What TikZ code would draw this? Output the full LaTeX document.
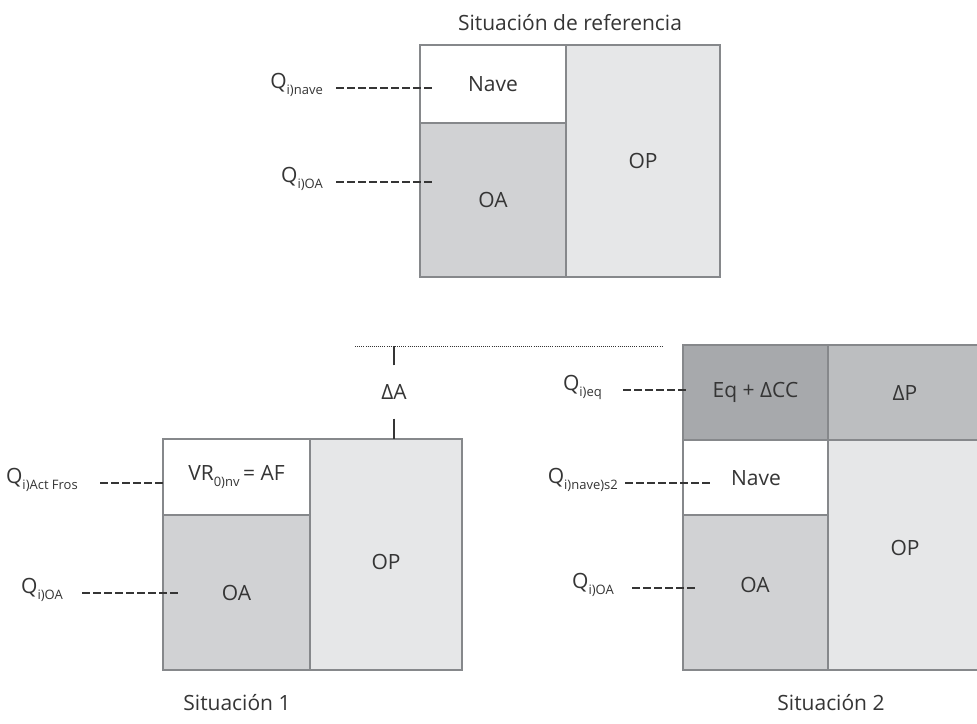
\documentclass[tikz,border=0pt]{standalone}
\usepackage{fontspec}
\setmainfont{Open Sans}
\definecolor{ink}{HTML}{353535}
\definecolor{rule}{HTML}{86888B}
\definecolor{fillOA}{HTML}{D1D2D4}
\definecolor{fillOP}{HTML}{E6E7E8}
\definecolor{fillEQ}{HTML}{A7A9AC}
\definecolor{fillDP}{HTML}{BCBEC0}
\newcommand{\qlab}[1]{Q\raisebox{-0.6ex}{\fontsize{13}{13}\selectfont #1}}
\tikzset{
  cell/.style={draw=rule, line width=1.5pt, inner sep=0pt, outer sep=0pt,
    text=ink, font=\fontsize{21}{24}\selectfont},
  qtag/.style={inner sep=0pt, text=ink, font=\fontsize{21}{24}\selectfont},
  leader/.style={draw=ink, line width=1.5pt, dash pattern=on 7.5pt off 3.5pt},
  caption/.style={inner sep=0pt, text=ink, font=\fontsize{21}{24}\selectfont},
  tick/.style={draw=ink, line width=1.5pt},
  dotline/.style={draw=ink, line width=0.9pt, dash pattern=on 0.9pt off 1.2pt}
}
\begin{document}
\begin{tikzpicture}[x=1pt,y=-1pt]
\clip (0,0) rectangle (977,723);
\fill[white] (0,0) rectangle (977,723);

% ---- reference situation ----
\node[caption] (t0) at (570,23) {Situación de referencia};
\node[cell, fill=white,  minimum width=146pt, minimum height=78pt]  (nave0) at (493,84)  {Nave};
\node[cell, fill=fillOA, minimum width=146pt, minimum height=154pt] (oa0)   at (493,200) {OA};
\node[cell, fill=fillOP, minimum width=154pt, minimum height=232pt] (op0)   at (643,161) {OP};

\node[qtag, anchor=base east] (qnave0) at (323,88)  {\qlab{i)nave}};
\node[qtag, anchor=base east] (qoa0)   at (323,182) {\qlab{i)OA}};
\coordinate (enave0) at (433,88);
\coordinate (eoa0)   at (433,182);
\draw[leader] ([xshift=13pt]qnave0.base east) -- (enave0);
\draw[leader] ([xshift=13pt]qoa0.base east) -- (eoa0);

% ---- situation 1 ----
\node[cell, fill=white,  minimum width=147pt, minimum height=76pt]  (vr1) at (236.5,477) {VR\raisebox{-0.6ex}{\fontsize{13}{13}\selectfont 0)nv}\,= AF};
\node[cell, fill=fillOA, minimum width=147pt, minimum height=155pt] (oa1) at (236.5,592.5) {OA};
\node[cell, fill=fillOP, minimum width=152pt, minimum height=231pt] (op1) at (386,554.5) {};
\node[caption] (op1t) at (386,562) {OP};

\node[qtag, anchor=base east] (qact1) at (78,483)  {\qlab{i)Act Fros}};
\node[qtag, anchor=base east] (qoa1)  at (63,593) {\qlab{i)OA}};
\coordinate (eact1) at (163,483);
\coordinate (eoa1)  at (180,593);
\draw[leader] ([xshift=22pt]qact1.base east) -- (eact1);
\draw[leader] ([xshift=19pt]qoa1.base east) -- (eoa1);

\node[caption] (cap1) at (237,703) {Situación 1};

% change in assets, measured against the dotted reference level
\coordinate (lvlL) at (355,346);
\coordinate (lvlR) at (662,346);
\draw[dotline] (lvlL) -- (lvlR);
\node[caption, minimum height=53pt] (da) at (394,392) {ΔA};
\draw[tick] (da.north) -- (da.north |- lvlL);
\draw[tick] (da.south) -- (da.south |- op1.north);

% ---- situation 2 ----
\node[cell, fill=fillEQ, minimum width=145pt, minimum height=95pt]  (eq2)   at (755.5,392.5) {Eq + ΔCC};
\node[cell, fill=fillDP, minimum width=154pt, minimum height=95pt]  (dp2)   at (905,392.5)   {ΔP};
\node[cell, fill=white,  minimum width=145pt, minimum height=75pt]  (nave2) at (755.5,477.5) {};
\node[cell, fill=fillOA, minimum width=145pt, minimum height=155pt] (oa2)   at (755.5,592.5) {};
\node[cell, fill=fillOP, minimum width=154pt, minimum height=230pt] (op2)   at (905,555)     {};
\node[caption] (nave2t) at (756,478) {Nave};
\node[caption] (oa2t)   at (755,585) {OA};
\node[caption] (op2t)   at (905,548) {OP};

\node[qtag, anchor=base east] (qeq2)   at (602,390) {\qlab{i)eq}};
\node[qtag, anchor=base east] (qnave2) at (618,483) {\qlab{i)nave)s2}};
\node[qtag, anchor=base east] (qoa2)   at (614,588) {\qlab{i)OA}};
\coordinate (eeq2)   at (687,390);
\coordinate (enave2) at (713,483);
\coordinate (eoa2)   at (698,588);
\draw[leader] ([xshift=21pt]qeq2.base east) -- (eeq2);
\draw[leader] ([xshift=7pt]qnave2.base east) -- (enave2);
\draw[leader] ([xshift=18pt]qoa2.base east) -- (eoa2);

\node[caption] (cap2) at (831,703) {Situación 2};
\end{tikzpicture}
\end{document}
